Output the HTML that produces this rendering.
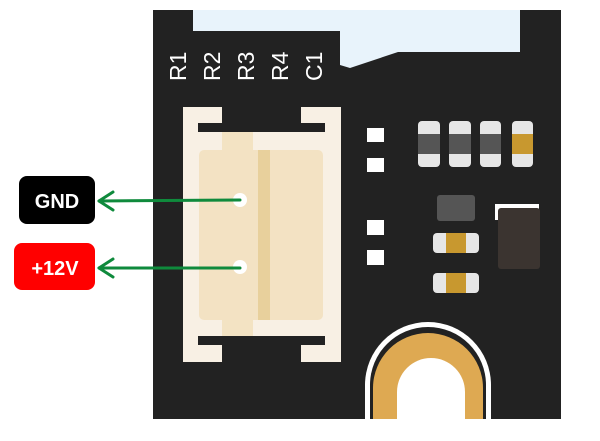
<!DOCTYPE html>
<html><head><style>
html,body{margin:0;padding:0;background:#fff;}
body{width:600px;height:436px;overflow:hidden;}
</style></head><body>
<svg width="600" height="436" viewBox="0 0 600 436" xmlns="http://www.w3.org/2000/svg">
<rect x="0" y="0" width="600" height="436" fill="#fff"/>
<rect x="153" y="10" width="408" height="409" fill="#222"/>
<polygon points="193,10 520,10 520,52 398,52 350,68 340,65 340,31 193,31" fill="#e8f3fb"/>
<g font-family="Liberation Sans, sans-serif" font-size="23" fill="#fff">
<text transform="translate(186,81) rotate(-90)">R1</text>
<text transform="translate(220,81) rotate(-90)">R2</text>
<text transform="translate(254,81) rotate(-90)">R3</text>
<text transform="translate(288,81) rotate(-90)">R4</text>
<text transform="translate(322,81) rotate(-90)">C1</text>
</g>
<rect x="183" y="107" width="158" height="255" fill="#f8f0e4"/>
<rect x="222" y="107" width="79" height="16" fill="#222"/>
<rect x="198" y="123" width="127" height="9" fill="#222"/>
<rect x="222" y="345" width="79" height="17" fill="#222"/>
<rect x="198" y="336" width="127" height="9" fill="#222"/>
<rect x="222" y="132" width="31" height="204" fill="#f3e3c3"/>
<rect x="199" y="150" width="124" height="170" rx="5" fill="#f3e2c3"/>
<rect x="258" y="150" width="12" height="170" fill="#e8d09c"/>
<circle cx="240" cy="200" r="7" fill="#fff"/>
<circle cx="240" cy="267" r="7" fill="#fff"/>
<g fill="#fff">
<rect x="367" y="128" width="17" height="14"/>
<rect x="367" y="158" width="17" height="14"/>
<rect x="367" y="220" width="17" height="15"/>
<rect x="367" y="250" width="17" height="15"/>
</g>
<g>
<rect x="418" y="121" width="22" height="46" rx="4" fill="#e6e6e6"/><rect x="418" y="134" width="22" height="20" fill="#555"/>
<rect x="449" y="121" width="22" height="46" rx="4" fill="#e6e6e6"/><rect x="449" y="134" width="22" height="20" fill="#555"/>
<rect x="480" y="121" width="21" height="46" rx="4" fill="#e6e6e6"/><rect x="480" y="134" width="21" height="20" fill="#555"/>
<rect x="512" y="121" width="21" height="46" rx="4" fill="#e6e6e6"/><rect x="512" y="134" width="21" height="20" fill="#c8982f"/>
</g>
<rect x="437" y="195" width="38" height="26" rx="3" fill="#555"/>
<rect x="433" y="233" width="46" height="20" rx="4" fill="#e6e6e6"/><rect x="446" y="233" width="20" height="20" fill="#c8982f"/>
<rect x="433" y="273" width="46" height="20" rx="4" fill="#e6e6e6"/><rect x="446" y="273" width="20" height="20" fill="#c8982f"/>
<rect x="495" y="204" width="44" height="16" fill="#fff"/>
<rect x="498" y="208" width="42" height="61" rx="3" fill="#3b3430"/>
<path d="M365,419 V385 A63,63 0 0 1 491,385 V419 Z" fill="#fff"/>
<path d="M370,419 V385 A58,58 0 0 1 486,385 V419 Z" fill="#222"/>
<path d="M373,419 V388 A55,55 0 0 1 483,388 V419 Z" fill="#dea952"/>
<path d="M397,419 V392 A34,34 0 0 1 465,392 V419 Z" fill="#fff"/>
<rect x="19" y="176" width="76" height="48" rx="8" fill="#000"/>
<text x="57" y="208" font-family="Liberation Sans, sans-serif" font-weight="bold" font-size="20" fill="#fff" text-anchor="middle">GND</text>
<rect x="14" y="243" width="81" height="47" rx="8" fill="#f00"/>
<text x="55" y="275" font-family="Liberation Sans, sans-serif" font-weight="bold" font-size="20" fill="#fff" text-anchor="middle">+12V</text>
<g stroke="#0f8a3c" stroke-width="3" fill="none" stroke-linecap="round" stroke-linejoin="round">
<line x1="99" y1="201" x2="240" y2="200"/>
<polyline points="113,192 99,201 113,210"/>
<line x1="99" y1="268" x2="240" y2="268"/>
<polyline points="113,259 99,268 113,277"/>
</g>
</svg>
</body></html>
